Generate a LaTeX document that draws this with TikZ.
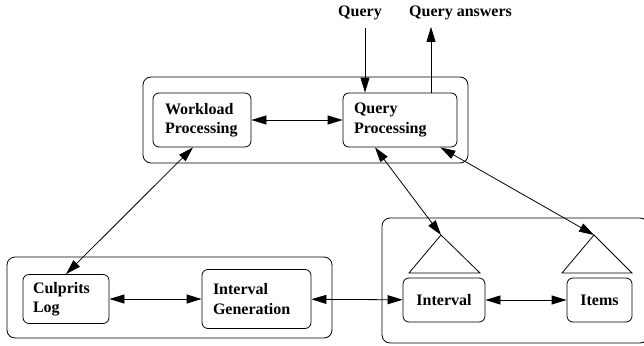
\documentclass[tikz,border=0pt]{standalone}
\usepackage{fontspec}
\setmainfont{Liberation Serif}
\usetikzlibrary{arrows.meta}

\begin{document}
\begin{tikzpicture}[x=1pt,y=-1pt]
 % Diagram style
\tikzset{
    block/.style={draw, rounded corners=6pt, line width=0.8pt, align=left,
        font=\bfseries\fontsize{16}{19.5}\selectfont},
    group/.style={draw, rounded corners=8pt, line width=0.8pt},
    link/.style={line width=0.8pt, {Triangle[length=15pt,width=9pt]}-{Triangle[length=15pt,width=9pt]}},
    flow/.style={line width=0.8pt, -{Triangle[length=15pt,width=9pt]}},
    lbl/.style={inner sep=0pt, font=\bfseries\fontsize{16}{19.5}\selectfont}
}
\useasboundingbox (0,0) rectangle (644,345);

% Groups
\draw[group] (143,77) rectangle (468,163);
\draw[group] (7,257) rectangle (332,338);
\draw[group] (382,218) rectangle (648,343);

% Blocks
\node[block, text width=74pt, inner xsep=12pt, minimum height=54pt] (WP) at (202,120) {Workload\\Processing};
\node[block, text width=92pt, inner xsep=11pt, minimum height=54pt] (QP) at (400,120) {Query\\Processing};
\node[block, text width=66pt, inner xsep=10pt, minimum height=49pt] (CL) at (66,299) {Culprits\\Log};
\node[block, text width=87pt, inner xsep=11pt, minimum height=59pt] (IG) at (256.5,299) {Interval\\Generation};
\node[block, minimum width=82pt, minimum height=44pt] (IV) at (444,300) {Interval};
\node[block, minimum width=65pt, minimum height=44pt] (IT) at (599.5,300) {Items};

\node[lbl, anchor=base] (QRY) at (360,17) {Query};
\node[lbl, anchor=base west] (QANS) at (409,17) {Query answers};

% Index triangles
\coordinate (IVTOP) at (441,235);
\coordinate (ITTOP) at (594,235);
\draw[line width=0.8pt] (409,273) -- (IVTOP) -- (480,273) -- cycle;
\draw[line width=0.8pt] (562,273) -- (ITTOP) -- (632,273) -- cycle;

\coordinate (QIN) at (365,28);
\coordinate (QOUT) at (431,27);

\draw[flow] (QIN) -- ([xshift=-35pt]QP.north);
\draw[flow] ([xshift=31pt]QP.north) -- (QOUT);
\draw[link] (WP) -- (QP);
\draw[link] ([xshift=-9pt]WP.south) -- (CL.north);
\draw[link] (CL) -- (IG);
\draw[link] (IG) -- (IV);
\draw[link] (IV) -- (IT);
\draw[link] ([xshift=-25pt]QP.south) -- (IVTOP);
\draw[link] ([xshift=-17pt]QP.south east) -- (ITTOP);
\end{tikzpicture}
\end{document}
